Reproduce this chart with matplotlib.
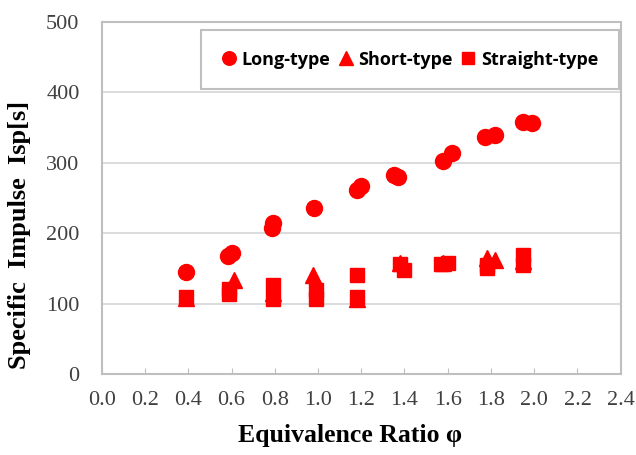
import matplotlib.pyplot as plt
import numpy as np

# Long-type
long_x = [0.39, 0.585, 0.60, 0.785, 0.79, 0.98, 1.18, 1.20, 1.35, 1.37, 1.58, 1.62, 1.77, 1.82, 1.95, 1.99]
long_y = [145, 168, 172, 208, 215, 236, 261, 267, 282, 279, 303, 314, 337, 340, 358, 357]

# Short-type
short_x = [0.39, 0.61, 0.79, 0.975, 1.18, 1.38, 1.58, 1.78, 1.82, 1.95]
short_y = [108, 133, 115, 140, 106, 158, 157, 165, 162, 160]

# Straight-type
straight_x = [0.39, 0.59, 0.59, 0.79, 0.79, 0.99, 0.99, 1.18, 1.18, 1.38, 1.40, 1.57, 1.60, 1.78, 1.78, 1.95, 1.95]
straight_y = [109, 120, 113, 126, 106, 119, 107, 141, 110, 156, 147, 156, 157, 150, 155, 169, 155]

x_ticks = np.arange(0, 2.41, 0.2)
y_ticks = [0, 100, 200, 300, 400, 500]

red = '#ff0000'
grey = '#bfbfbf'

fig = plt.figure(figsize=(6.36, 4.55), dpi=100)
ax = fig.add_axes([0.160, 0.178, 0.816, 0.774])

ax.plot(long_x, long_y, 'o', color=red, markersize=11.5, label='Long-type', zorder=3)
ax.plot(short_x, short_y, '^', color=red, markersize=11.5, label='Short-type', zorder=3)
ax.plot(straight_x, straight_y, 's', color=red, markersize=10, label='Straight-type', zorder=3)

ax.set_xlim(0, 2.4)
ax.set_ylim(0, 500)
ax.set_xticks(x_ticks)
ax.set_xticklabels(['%.1f' % v for v in x_ticks])
ax.set_yticks(y_ticks)

ax.yaxis.grid(True, color='#d9d9d9', linewidth=1.3)
ax.set_axisbelow(True)
for s in ax.spines.values():
    s.set_color(grey)
    s.set_linewidth(1.5)

for lbl in ax.get_xticklabels() + ax.get_yticklabels():
    lbl.set_fontfamily('Liberation Serif')
    lbl.set_fontsize(16)
    lbl.set_color('#404040')
ax.tick_params(axis='x', direction='in', length=4, color=grey, pad=12)
ax.tick_params(axis='y', length=0, pad=16)

ax.set_xlabel('Equivalence Ratio φ', fontfamily='Liberation Serif', fontsize=18.5,
              fontweight='bold')
ax.xaxis.set_label_coords(0.478, -0.143)
ax.set_ylabel('Specific  Impulse  Isp[s]', fontfamily='Liberation Serif', fontsize=19,
              fontweight='bold')
ax.yaxis.set_label_coords(-0.137, 0.395)

leg = ax.legend(loc='upper right', bbox_to_anchor=(0.996, 0.977), ncol=3,
                prop={'family': 'Open Sans', 'weight': 'bold', 'size': 13},
                handlelength=0.8, handletextpad=0.3, columnspacing=0.45,
                borderpad=1.15, borderaxespad=0, fancybox=False, framealpha=1,
                markerscale=0.85)
leg.get_frame().set_edgecolor(grey)
leg.get_frame().set_linewidth(1.5)

plt.savefig('out.png', dpi=100)
